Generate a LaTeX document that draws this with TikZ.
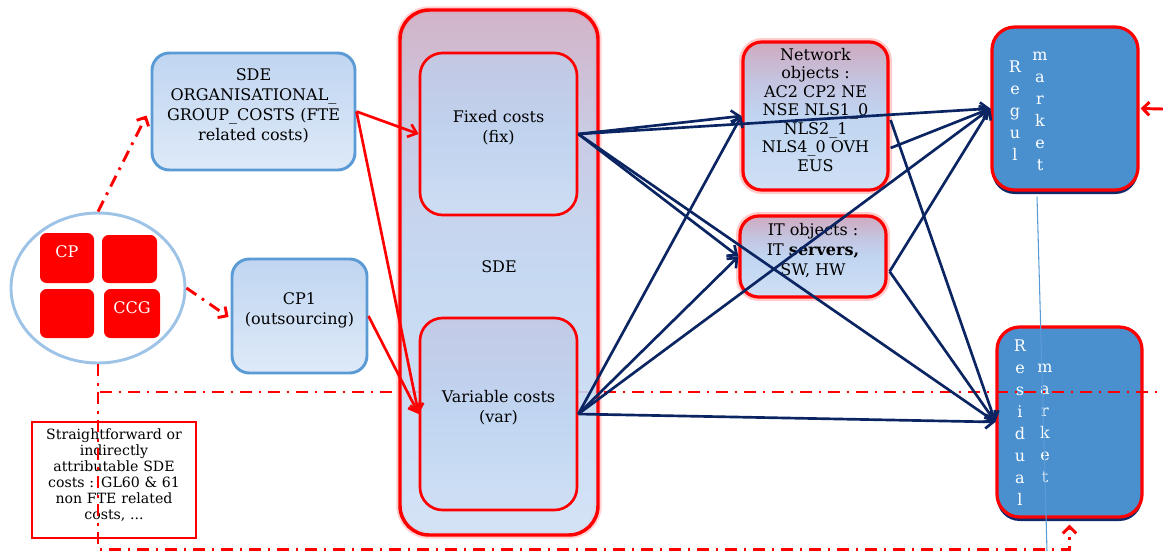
\documentclass[tikz,border=0pt]{standalone}
\usepackage{fontspec}
\setmainfont{DejaVu Serif}
\usetikzlibrary{arrows.meta,shadows,calc,fit,shapes.geometric}
\definecolor{bluebd}{HTML}{5B9BD5}
\definecolor{lightbd}{HTML}{9DC3E6}
\definecolor{boxtop}{HTML}{C0D5F1}
\definecolor{boxbot}{HTML}{DEEAF8}
\definecolor{pinktop}{HTML}{D3A0B3}
\definecolor{lilac}{HTML}{C4C4E0}
\definecolor{mkt}{HTML}{4A90CF}
\definecolor{navy}{HTML}{0B2462}
\definecolor{shadownavy}{HTML}{10296A}
\pgfdeclareverticalshading{sdeshade}{100bp}{color(0bp)=(boxbot); color(50bp)=(boxtop); color(64bp)=(lilac); color(80bp)=(pinktop); color(100bp)=(pinktop)}
\pgfdeclareverticalshading{objshade}{100bp}{color(0bp)=(boxbot); color(50bp)=(boxtop); color(62bp)=(lilac); color(80bp)=(pinktop); color(100bp)=(pinktop)}
\pgfdeclareverticalshading{innshade}{100bp}{color(0bp)=(boxbot); color(50bp)=(boxtop); color(85bp)=(lilac); color(100bp)=(lilac)}
\newcommand\mainfs{\fontsize{12pt}{15pt}\selectfont}
\newcommand\netfs{\fontsize{12pt}{13.9pt}\selectfont}
\newcommand\notefs{\fontsize{10.6pt}{12pt}\selectfont}
\newcommand\mktfs{\fontsize{12pt}{16.5pt}\selectfont}
\tikzset{
  bluebox/.style={draw=bluebd, line width=2.2pt, rounded corners=13pt, top color=boxtop, bottom color=boxbot, inner sep=0pt, align=center, font=\mainfs},
  bigbox/.style={draw=red, line width=2.6pt, rounded corners=22pt, shading=sdeshade, fill opacity=0.9, text opacity=1, inner sep=0pt, align=center, font=\mainfs, preaction={draw=red, draw opacity=0.18, line width=5.5pt}},
  innerbox/.style={draw=red, line width=2pt, rounded corners=17pt, shading=innshade, fill opacity=0.9, text opacity=1, inner sep=0pt, align=center, font=\mainfs},
  objbox/.style={draw=red, line width=2.4pt, rounded corners=14pt, shading=objshade, inner sep=0pt, align=center, preaction={draw=red, draw opacity=0.2, line width=6pt}},
  mktbox/.style={draw=red, line width=2.4pt, rounded corners=17pt, fill=mkt, inner sep=0pt, drop shadow={shadow xshift=0pt, shadow yshift=-3pt, fill=shadownavy, opacity=1}},
  mktletters/.style={text=white, align=center, font=\mktfs, inner sep=0pt},
  sq/.style={fill=red, rounded corners=5pt, inner sep=0pt, text=white, font=\mainfs},
  reddash/.style={draw=red, line width=2.2pt, dash pattern=on 9pt off 5pt on 2pt off 5pt},
  redarr/.style={draw=red, line width=2pt, -{Straight Barb[length=6pt,width=10pt]}},
  navyarr/.style={draw=navy, line width=2pt, -{Straight Barb[length=6pt,width=10pt]}},
}
\begin{document}
\begin{tikzpicture}[x=0.75pt,y=-0.75pt]
\useasboundingbox (0,0) rectangle (1163,551);

% left side
\node[bluebox, fit={(152,53)(355,170)}] (org) {SDE\\ORGANISATIONAL\_\\GROUP\_COSTS (FTE\\related costs)};
\node[bluebox, fit={(232,259)(367,373)}] (cp1) {CP1\\(outsourcing)};
\node[ellipse, draw=lightbd, line width=2.2pt, fill=white, minimum width={174*0.75pt}, minimum height={150*0.75pt}, inner sep=0pt] (circ) at (98,288) {};
\node[sq, fit={(40,233)(94,283)}] (cp) {CP};
\node[sq, fit={(102,235)(157,283)}] (sq2) {};
\node[sq, fit={(40,289)(94,338)}] (sq3) {};
\node[sq, fit={(104,289)(160,338)}] (ccg) {CCG};
\node[draw=red, line width=1.2pt, fill=white, fit={(32,422)(196,538)}, inner sep=0pt, align=center, font=\notefs] (note) {Straightforward or\\indirectly\\attributable SDE\\costs : GL60 \& 61\\non FTE related\\costs, ...};

% right side boxes
\node[objbox, font=\netfs, fit={(743,42)(888,190)}] (net) {Network\\objects :\\AC2 CP2 NE\\NSE NLS1\_0\\NLS2\_1\\NLS4\_0 OVH\\EUS};
\node[objbox, font=\mainfs, fit={(740,216)(886,297)}] (it) {IT objects :\\IT \textbf{servers,}\\SW, HW};
\node[mktbox, fit={(992,27)(1138,190)}] (regul) {};
\node[mktbox, fit={(997,327)(1142,517)}] (resid) {};
\node[mktletters] (rg1) at (1015,111) {R\\e\\g\\u\\l};
\node[mktletters] (rg2) at (1040,111) {m\\a\\r\\k\\e\\t};
\node[mktletters] (rs1) at (1020,423) {R\\e\\s\\i\\d\\u\\a\\l};
\node[mktletters] (rs2) at (1045,423) {m\\a\\r\\k\\e\\t};

% thin blue line
\coordinate (bl1) at ($(regul.south)+(-28,5)$);
\coordinate (bl2) at (1047,551);
\draw[bluebd, line width=0.8pt] (bl1) -- (bl2);

% dash-dot lines
\coordinate (hl) at (100,392);
\coordinate (hr) at (1163,392);
\draw[reddash] (hl) -- (hr);
\draw[reddash, -{Straight Barb[length=5pt,width=10pt]}] (circ.north) -- ($(org.west)+(-4,4)$);
\draw[reddash, -{Straight Barb[length=5pt,width=10pt]}] (circ.east) -- ($(cp1.west)+(-2,1)$);
\draw[reddash, -{Straight Barb[length=5pt,width=10pt]}] (circ.south) |- ($(resid.south)+(0,31)$) -- ($(resid.south)+(0,6)$);
\coordinate (rin) at (1163,109);
\draw[red, line width=2.2pt, -{Straight Barb[length=5pt,width=10pt]}] (rin) -- ($(regul.east)+(1,0)$);

% SDE box
\node[bigbox, fit={(400,10)(598,535)}] (sde) {SDE};
\node[innerbox, fit={(420,53)(577,215)}] (fix) {Fixed costs\\(fix)};
\node[innerbox, fit={(420,318)(577,510)}] (var) {Variable costs\\(var)};

% red arrows
\draw[redarr] (org.east) -- (fix.west);
\draw[redarr] (org.east) -- (var.west);
\draw[redarr] (cp1.east) -- (var.west);

% navy arrows
\draw[navyarr] (fix.east) -- (net.west);
\draw[navyarr] (fix.east) -- (regul.west);
\draw[navyarr] (fix.east) -- (it.west);
\draw[navyarr] (fix.east) -- (resid.west);
\draw[navyarr] (var.east) -- (net.west);
\draw[navyarr] (var.east) -- (it.west);
\draw[navyarr] (var.east) -- (regul.west);
\draw[navyarr] (var.east) -- (resid.west);
\draw[navyarr] ($(net.east)+(1,32)$) -- (regul.west);
\draw[navyarr] ($(net.east)+(1,4)$) -- (resid.west);
\draw[navyarr] ($(it.east)+(2,15)$) -- (regul.west);
\draw[navyarr] ($(it.east)+(2,15)$) -- (resid.west);
\end{tikzpicture}
\end{document}
